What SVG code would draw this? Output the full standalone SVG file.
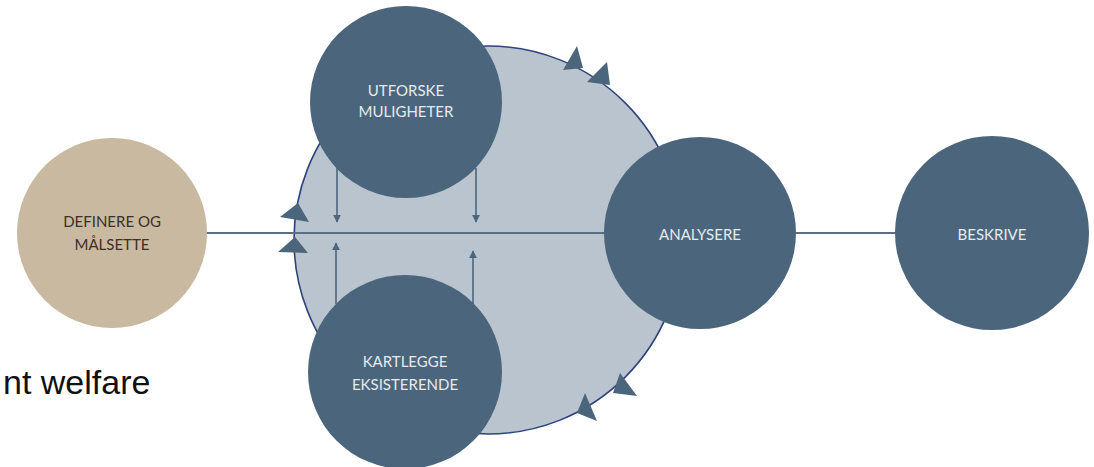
<svg xmlns="http://www.w3.org/2000/svg" width="1094" height="467" viewBox="0 0 1094 467">
<defs>
<style>
.node{fill:#4b667c}
.lt{fill:#e6eaee;font-family:Lato,"Open Sans",sans-serif;font-size:15px;text-anchor:middle}
.dt{fill:#3a3026;font-family:Lato,"Open Sans",sans-serif;font-size:15px;text-anchor:middle}
.conn{stroke:#5b6f81;stroke-width:2;fill:none}
.small{stroke:#4b667c;stroke-width:1.6;fill:none}
.tri{fill:#4b667c}
</style>
<marker id="ah" viewBox="0 0 10 10" refX="9" refY="5" markerWidth="5" markerHeight="5" orient="auto" markerUnits="strokeWidth">
<path d="M0,0 L10,5 L0,10 z" fill="#4b667c"/>
</marker>
</defs>
<rect width="1094" height="467" fill="#ffffff"/>
<g id="cycle">
<circle cx="488" cy="240" r="194" fill="#b9c4cf" stroke="#2f437c" stroke-width="1.6"/>
</g>
<g id="connectors">
<line class="conn" x1="205" y1="233" x2="606" y2="233"/>
<line class="conn" x1="795" y1="233" x2="898" y2="233"/>
<line class="small" x1="337" y1="168" x2="337" y2="222" marker-end="url(#ah)"/>
<line class="small" x1="476" y1="168" x2="476" y2="222" marker-end="url(#ah)"/>
<line class="small" x1="336" y1="304" x2="336" y2="243" marker-end="url(#ah)"/>
<line class="small" x1="473" y1="305" x2="473" y2="251" marker-end="url(#ah)"/>
<polygon class="tri" points="298,203 280,217 309,222"/>
<polygon class="tri" points="295,237 278,252 308,253"/>
<polygon class="tri" points="577,46 563,70 583,68"/>
<polygon class="tri" points="607,62 587,82 610,85"/>
<polygon class="tri" points="620,373 613,393 637,396"/>
<polygon class="tri" points="585,393 577,413 597,421"/>
</g>
<g id="definere">
<circle cx="112" cy="233" r="95" fill="#c9b9a0"/>
<text class="dt" x="112" y="227">DEFINERE OG</text>
<text class="dt" x="112" y="250">MÅLSETTE</text>
</g>
<g id="utforske">
<circle cx="406" cy="102" r="96" class="node"/>
<text class="lt" x="406" y="96">UTFORSKE</text>
<text class="lt" x="406" y="117">MULIGHETER</text>
</g>
<g id="kartlegge">
<circle cx="405" cy="372" r="97" class="node"/>
<text class="lt" x="405" y="367">KARTLEGGE</text>
<text class="lt" x="405" y="390">EKSISTERENDE</text>
</g>
<g id="analysere">
<circle cx="700" cy="233" r="96" class="node"/>
<text class="lt" x="700" y="240">ANALYSERE</text>
</g>
<g id="beskrive">
<circle cx="992" cy="233" r="97" class="node"/>
<text class="lt" x="992" y="240">BESKRIVE</text>
</g>
<text x="3" y="394" font-family="'Liberation Sans',Arial,sans-serif" font-size="34" fill="#111111">nt welfare</text>
</svg>
